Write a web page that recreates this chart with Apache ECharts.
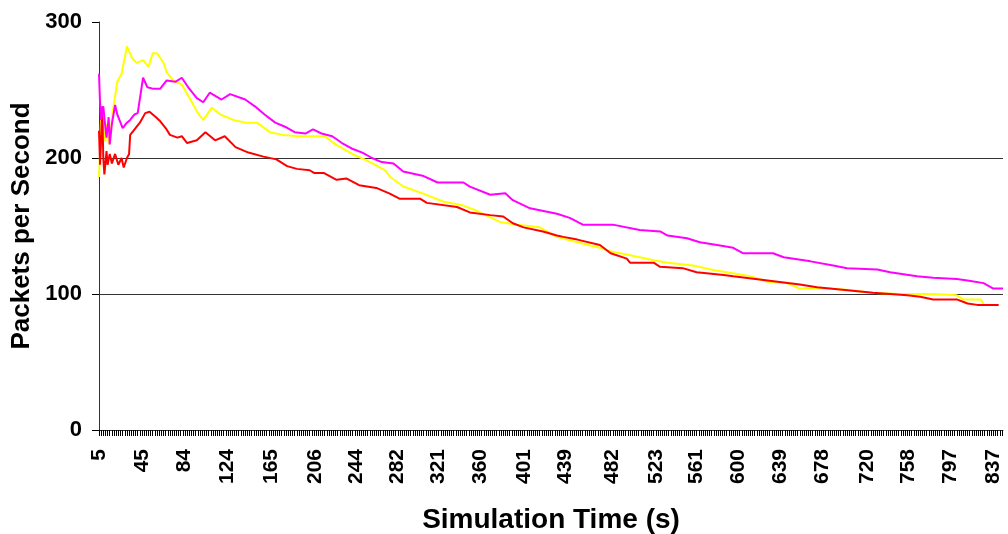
<!DOCTYPE html>
<html>
<head>
<meta charset="utf-8">
<script src="https://cdn.jsdelivr.net/npm/echarts@6/dist/echarts.min.js"></script>
<style>
    html, body {margin: 0; padding: 0; background: #fff;}
    #main {width: 1008px; height: 534px;}
</style>
</head>
<body>
<div id="main"></div>
<script>
    // time labels printed under the x axis (seconds)
    var tickLabels = [5, 45, 84, 124, 165, 206, 244, 282, 321, 360, 401, 439, 482, 523, 561, 600, 639, 678, 720, 758, 797, 837];

    // [time (s), packets per second]
    var redData = [
        [5, 220], [6, 195], [7, 215], [8, 238], [9, 200], [10, 188], [12, 205], [13, 195], [15, 203], [17, 196],
        [20, 203], [23, 195], [26, 200], [28, 193], [31, 200], [33, 203], [34, 217], [37, 220], [43, 226], [48, 233],
        [52, 234], [58, 230], [62, 227], [67, 222], [71, 217], [78, 215], [82, 216], [87, 211], [96, 213], [104, 219],
        [113, 213], [122, 216], [132, 208], [144, 204], [158, 201], [170, 199], [180, 194], [189, 192], [201, 191], [205, 189],
        [214, 189], [226, 184], [235, 185], [247, 180], [263, 178], [275, 174], [285, 170], [304, 170], [310, 167], [338, 164],
        [350, 160], [369, 158], [381, 157], [390, 152], [400, 149], [418, 146], [431, 143], [437, 142], [450, 140], [471, 136],
        [481, 130], [496, 126], [499, 123], [521, 123], [527, 120], [548, 119], [561, 116], [586, 114], [595, 113], [627, 110],
        [657, 107], [673, 105], [725, 101], [757, 99], [769, 98], [781, 96], [803, 96], [813, 93], [822, 92], [842, 92]
    ];
    var yellowData = [
        [5, 186], [6, 205], [7, 232], [9, 222], [11, 212], [12, 225], [14, 210], [16, 220], [18, 235], [22, 256],
        [26, 262], [31, 282], [36, 273], [40, 270], [46, 272], [51, 267], [55, 277], [59, 277], [65, 270], [68, 263],
        [74, 257], [82, 254], [90, 243], [97, 233], [102, 228], [110, 237], [118, 232], [130, 228], [141, 226], [152, 226],
        [164, 219], [176, 217], [192, 216], [215, 216], [225, 210], [234, 206], [243, 202], [252, 199], [262, 195], [271, 191],
        [276, 186], [288, 179], [306, 174], [325, 168], [344, 165], [357, 161], [378, 153], [394, 151], [415, 149], [431, 142],
        [450, 138], [471, 134], [483, 131], [496, 129], [520, 125], [534, 123], [558, 121], [574, 118], [589, 116], [611, 113],
        [627, 109], [645, 108], [657, 104], [682, 104], [704, 103], [722, 101], [750, 100], [781, 100], [803, 99], [809, 96],
        [825, 96], [828, 93]
    ];
    var magentaData = [
        [5, 262], [6, 240], [7, 228], [9, 238], [11, 222], [12, 215], [14, 230], [15, 210], [17, 225], [20, 239],
        [22, 232], [25, 226], [27, 222], [31, 226], [34, 228], [38, 232], [41, 233], [46, 259], [50, 252], [55, 251],
        [62, 251], [68, 257], [76, 256], [82, 259], [88, 252], [96, 244], [102, 241], [108, 248], [119, 243], [127, 247],
        [141, 243], [150, 238], [159, 232], [169, 226], [178, 223], [187, 219], [197, 218], [204, 221], [212, 218], [222, 216],
        [231, 211], [240, 207], [250, 204], [259, 200], [268, 197], [279, 196], [288, 190], [306, 187], [320, 182], [344, 182],
        [350, 179], [369, 173], [383, 174], [390, 169], [406, 163], [431, 159], [443, 156], [455, 151], [483, 151], [508, 147],
        [527, 146], [534, 143], [552, 141], [564, 138], [580, 136], [595, 134], [604, 130], [632, 130], [642, 127], [667, 124],
        [688, 121], [701, 119], [729, 118], [741, 116], [766, 113], [781, 112], [803, 111], [813, 110], [828, 108], [837, 104],
        [846, 104]
    ];

    var font = 'Liberation Sans, Arial, sans-serif';
    var smallTicks = [];
    for (var t = 5; t <= 845; t += 2) smallTicks.push(t);

    var chart = echarts.init(document.getElementById('main'));
    chart.setOption({
        animation: false,
        grid: {left: 99, right: 5, top: 22, bottom: 104, outerBoundsMode: 'none'},
        xAxis: {
            type: 'value', min: 5, max: 846,
            name: 'Simulation Time (s)', nameLocation: 'middle', nameGap: 76,
            nameTextStyle: {fontFamily: font, fontWeight: 'bold', fontSize: 28, color: '#000'},
            axisLine: {lineStyle: {color: '#333', width: 1}},
            axisTick: {show: true, customValues: smallTicks, length: 6, lineStyle: {color: '#000'}},
            axisLabel: {
                customValues: tickLabels, rotate: 90, margin: 19,
                fontFamily: font, fontWeight: 'bold', fontSize: 21, color: '#000'
            },
            splitLine: {show: false}
        },
        yAxis: {
            type: 'value', min: 0, max: 300, interval: 100,
            name: 'Packets per Second', nameLocation: 'middle', nameGap: 64,
            nameTextStyle: {fontFamily: font, fontWeight: 'bold', fontSize: 26, color: '#000'},
            axisLine: {show: true, lineStyle: {color: '#333', width: 1}},
            axisTick: {show: true, length: 7, lineStyle: {color: '#000'}},
            axisLabel: {margin: 17, fontFamily: font, fontWeight: 'bold', fontSize: 22, color: '#000'},
            splitLine: {show: true, lineStyle: {color: ['#333', '#333', '#333', 'rgba(0,0,0,0)'], width: 1}}
        },
        series: [
            {name: 'yellow', type: 'line', data: yellowData, showSymbol: false, lineStyle: {color: '#ffff00', width: 2}},
            {name: 'red', type: 'line', data: redData, showSymbol: false, lineStyle: {color: '#ff0000', width: 2}},
            {name: 'magenta', type: 'line', data: magentaData, showSymbol: false, lineStyle: {color: '#ff00ff', width: 2}}
        ]
    });
</script>
</body>
</html>
